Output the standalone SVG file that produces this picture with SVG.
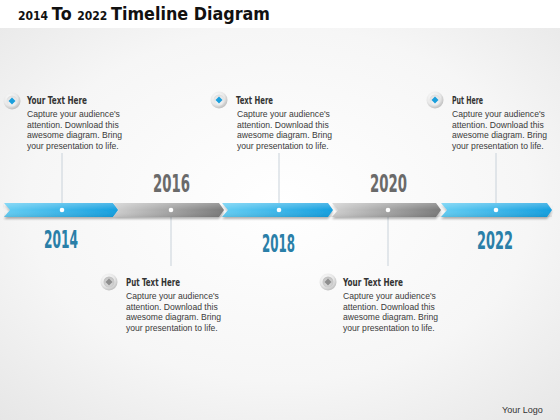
<svg xmlns="http://www.w3.org/2000/svg" width="560" height="420" viewBox="0 0 560 420">
<defs>
<radialGradient id="bg" cx="0.5" cy="0.45" r="0.75">
<stop offset="0" stop-color="#ffffff"/>
<stop offset="0.6" stop-color="#f6f6f6"/>
<stop offset="1" stop-color="#e6e6e6"/>
</radialGradient>
<linearGradient id="blue" x1="0" y1="0" x2="1" y2="0">
<stop offset="0" stop-color="#63cdf3"/>
<stop offset="1" stop-color="#159fdf"/>
</linearGradient>
<linearGradient id="gray" x1="0" y1="0" x2="1" y2="0">
<stop offset="0" stop-color="#cfcfcf"/>
<stop offset="1" stop-color="#7a7a7a"/>
</linearGradient>
<linearGradient id="shine" x1="0" y1="0" x2="0" y2="1">
<stop offset="0" stop-color="#ffffff" stop-opacity="0.25"/>
<stop offset="0.5" stop-color="#ffffff" stop-opacity="0"/>
<stop offset="1" stop-color="#000000" stop-opacity="0.08"/>
</linearGradient>
<radialGradient id="btn" cx="0.4" cy="0.35" r="0.7">
<stop offset="0" stop-color="#ffffff"/>
<stop offset="0.6" stop-color="#e8e8e8"/>
<stop offset="1" stop-color="#b8b8b8"/>
</radialGradient>
<radialGradient id="btnIn" cx="0.5" cy="0.6" r="0.6">
<stop offset="0" stop-color="#ffffff"/>
<stop offset="1" stop-color="#dcdcdc"/>
</radialGradient>
<radialGradient id="btnInG" cx="0.5" cy="0.6" r="0.6">
<stop offset="0" stop-color="#e4e4e4"/>
<stop offset="1" stop-color="#bdbdbd"/>
</radialGradient>
<filter id="sh" x="-10%" y="-50%" width="120%" height="200%">
<feGaussianBlur in="SourceAlpha" stdDeviation="1.2"/>
<feOffset dy="1.5"/>
<feComponentTransfer><feFuncA type="linear" slope="0.3"/></feComponentTransfer>
<feMerge><feMergeNode/><feMergeNode in="SourceGraphic"/></feMerge>
</filter>
</defs>
<style>
.title{font-family:"DejaVu Sans","Open Sans",sans-serif;font-weight:bold;fill:#111}
.head{font-family:"DejaVu Sans Condensed","DejaVu Sans",sans-serif;font-weight:bold;font-size:10px;fill:#333}
.body{font-family:"Liberation Sans",Arial,sans-serif;font-size:8.6px;fill:#3a3a3a}
.yb{font-family:"DejaVu Sans Condensed","DejaVu Sans",sans-serif;font-weight:bold;font-size:24px;fill:#2a7fa8}
.yg{font-family:"DejaVu Sans Condensed","DejaVu Sans",sans-serif;font-weight:bold;font-size:24px;fill:#6a6a6a}
.conn{stroke:#c9d2da;stroke-width:1;fill:none}
.dot{fill:#ffffff}
.logo{font-family:"Liberation Sans",Arial,sans-serif;font-size:9px;fill:#333}
</style>
<rect x="0" y="0" width="560" height="420" fill="#ffffff"/>
<rect x="0" y="28" width="560" height="392" fill="url(#bg)"/>
<text class="title" x="18" y="20" textLength="252" lengthAdjust="spacingAndGlyphs"><tspan font-size="11.5">2014 </tspan><tspan font-size="17">To </tspan><tspan font-size="11.5">2022 </tspan><tspan font-size="17">Timeline Diagram</tspan></text>

<g id="connectors">
<line class="conn" x1="62" y1="153" x2="62" y2="203"/>
<line class="conn" x1="171" y1="217" x2="171" y2="266"/>
<line class="conn" x1="279" y1="153" x2="279" y2="203"/>
<line class="conn" x1="388" y1="217" x2="388" y2="266"/>
<line class="conn" x1="496" y1="153" x2="496" y2="203"/>
</g>

<g id="timeline" filter="url(#sh)">
<polygon points="4,203 113,203 118,210 113,217 4,217 10,210" fill="url(#blue)"/>
<polygon points="113,203 219,203 224,210 219,217 113,217 119,210" fill="url(#gray)"/>
<polygon points="222,203 328,203 333,210 328,217 222,217 228,210" fill="url(#blue)"/>
<polygon points="332,203 436,203 441,210 436,217 332,217 338,210" fill="url(#gray)"/>
<polygon points="441,203 547,203 552,210 547,217 441,217 447,210" fill="url(#blue)"/>
<rect x="4" y="203" width="548" height="14" fill="url(#shine)"/>
</g>
<g id="dots">
<circle class="dot" cx="62" cy="210" r="2.3"/>
<circle class="dot" cx="171" cy="210" r="2.3"/>
<circle class="dot" cx="279" cy="210" r="2.3"/>
<circle class="dot" cx="388" cy="210" r="2.3"/>
<circle class="dot" cx="496" cy="210" r="2.3"/>
</g>

<g id="y2014"><text class="yb" x="44" y="248" textLength="34" lengthAdjust="spacingAndGlyphs">2014</text></g>
<g id="y2016"><text class="yg" x="153" y="192" textLength="37" lengthAdjust="spacingAndGlyphs">2016</text></g>
<g id="y2018"><text class="yb" x="262" y="252" textLength="33" lengthAdjust="spacingAndGlyphs">2018</text></g>
<g id="y2020"><text class="yg" x="370" y="192" textLength="37" lengthAdjust="spacingAndGlyphs">2020</text></g>
<g id="y2022"><text class="yb" x="477" y="249" textLength="36" lengthAdjust="spacingAndGlyphs">2022</text></g>

<g id="node1">
<circle cx="12" cy="101" r="8.5" fill="url(#btn)"/>
<circle cx="12" cy="101" r="5.5" fill="url(#btnIn)"/>
<polygon points="12,97.5 15.5,101 12,104.5 8.5,101" fill="#1b9fdc"/>
<text class="head" x="27" y="104" textLength="60" lengthAdjust="spacingAndGlyphs">Your Text Here</text>
<text class="body" x="27" y="117">Capture your audience's</text>
<text class="body" x="27" y="127.5">attention. Download this</text>
<text class="body" x="27" y="138">awesome diagram. Bring</text>
<text class="body" x="27" y="148.5">your presentation to life.</text>
</g>

<g id="node2">
<circle cx="219" cy="100" r="8.5" fill="url(#btn)"/>
<circle cx="219" cy="100" r="5.5" fill="url(#btnIn)"/>
<polygon points="219,96.5 222.5,100 219,103.5 215.5,100" fill="#1b9fdc"/>
<text class="head" x="236" y="104" textLength="37" lengthAdjust="spacingAndGlyphs">Text Here</text>
<text class="body" x="237" y="117">Capture your audience's</text>
<text class="body" x="237" y="127.5">attention. Download this</text>
<text class="body" x="237" y="138">awesome diagram. Bring</text>
<text class="body" x="237" y="148.5">your presentation to life.</text>
</g>

<g id="node3">
<circle cx="435" cy="100" r="8.5" fill="url(#btn)"/>
<circle cx="435" cy="100" r="5.5" fill="url(#btnIn)"/>
<polygon points="435,96.5 438.5,100 435,103.5 431.5,100" fill="#1b9fdc"/>
<text class="head" x="452" y="104" textLength="31" lengthAdjust="spacingAndGlyphs">Put Here</text>
<text class="body" x="452" y="117">Capture your audience's</text>
<text class="body" x="452" y="127.5">attention. Download this</text>
<text class="body" x="452" y="138">awesome diagram. Bring</text>
<text class="body" x="452" y="148.5">your presentation to life.</text>
</g>

<g id="node4">
<circle cx="109" cy="282" r="8.5" fill="url(#btn)"/>
<circle cx="109" cy="282" r="5.5" fill="url(#btnInG)"/>
<polygon points="109,278.5 112.5,282 109,285.5 105.5,282" fill="#8e8e8e"/>
<text class="head" x="126" y="286" textLength="54" lengthAdjust="spacingAndGlyphs">Put Text Here</text>
<text class="body" x="126" y="299">Capture your audience's</text>
<text class="body" x="126" y="309.5">attention. Download this</text>
<text class="body" x="126" y="320">awesome diagram. Bring</text>
<text class="body" x="126" y="330.5">your presentation to life.</text>
</g>

<g id="node5">
<circle cx="328" cy="282" r="8.5" fill="url(#btn)"/>
<circle cx="328" cy="282" r="5.5" fill="url(#btnInG)"/>
<polygon points="328,278.5 331.5,282 328,285.5 324.5,282" fill="#8e8e8e"/>
<text class="head" x="343" y="286" textLength="60" lengthAdjust="spacingAndGlyphs">Your Text Here</text>
<text class="body" x="343" y="299">Capture your audience's</text>
<text class="body" x="343" y="309.5">attention. Download this</text>
<text class="body" x="343" y="320">awesome diagram. Bring</text>
<text class="body" x="343" y="330.5">your presentation to life.</text>
</g>

<text class="logo" x="502" y="413">Your Logo</text>
</svg>
